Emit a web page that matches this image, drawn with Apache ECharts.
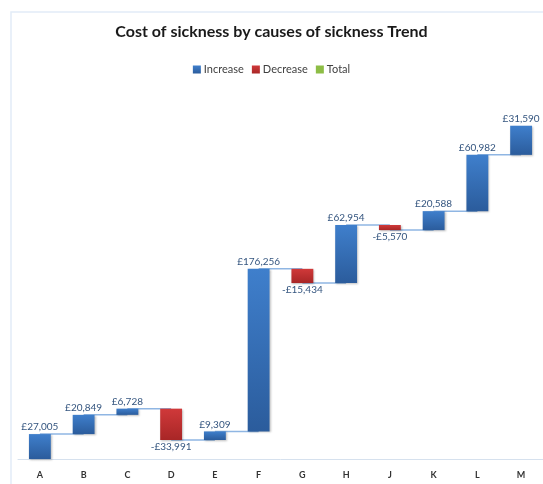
<!DOCTYPE html>
<html>
<head>
<meta charset="utf-8">
<script src="https://cdn.jsdelivr.net/npm/echarts@6/dist/echarts.min.js"></script>
<style>
  html, body { margin: 0; padding: 0; background: #ffffff; }
  #chart { width: 543px; height: 484px; }
</style>
</head>
<body>
<div id="chart"></div>
<script>
// Causes of sickness (category letters) and the change each one adds to the running cost
const categories = ['A', 'B', 'C', 'D', 'E', 'F', 'G', 'H', 'J', 'K', 'L', 'M'];
const changes = [27005, 20849, 6728, -33991, 9309, 176256, -15434, 62954, -5570, 20588, 60982, 31590];

// Running totals, invisible stacking base, and the visible rise / fall for each step
const running = [];
const baseValues = [];
const increaseValues = [];
const decreaseValues = [];
let total = 0;
changes.forEach(function (v) {
  const before = total;
  total += v;
  running.push(total);
  if (v >= 0) {
    baseValues.push(before);
    increaseValues.push(v);
    decreaseValues.push('-');
  } else {
    baseValues.push(total);
    increaseValues.push('-');
    decreaseValues.push(-v);
  }
});

function money(n) {
  return '£' + Math.round(n).toLocaleString('en-GB');
}

const chart = echarts.init(document.getElementById('chart'));

const blueFill = new echarts.graphic.LinearGradient(0, 0, 0, 1, [
  { offset: 0, color: '#3f7fcc' },
  { offset: 1, color: '#2b5c9c' }
]);
const redFill = new echarts.graphic.LinearGradient(0, 0, 0, 1, [
  { offset: 0, color: '#d0393a' },
  { offset: 1, color: '#a82626' }
]);

chart.setOption({
  animation: false,
  backgroundColor: '#ffffff',
  title: {
    text: 'Cost of sickness by causes of sickness Trend',
    left: 'center',
    top: 19,
    textStyle: {
      fontFamily: 'Lato',
      fontSize: 16,
      fontWeight: 'bold',
      color: '#1a1a1a'
    }
  },
  legend: {
    top: 59,
    left: 'center',
    itemWidth: 8,
    itemHeight: 8,
    itemGap: 8,
    icon: 'rect',
    textStyle: { fontFamily: 'Lato', fontSize: 11, color: '#404040', padding: [0, 0, 0, -2] },
    data: ['Increase', 'Decrease', 'Total']
  },
  graphic: [
    {
      type: 'polyline',
      silent: true,
      shape: { points: [[11, 484], [11, 12], [543, 12]] },
      style: { stroke: '#e2ecf7', lineWidth: 1.5, fill: null }
    }
  ],
  grid: { left: 18, right: -3, top: 90, bottom: 25 },
  xAxis: {
    type: 'category',
    data: categories,
    axisLine: { lineStyle: { color: '#d6e1ee', width: 1 } },
    axisTick: { show: false },
    axisLabel: {
      fontFamily: 'Lato',
      fontSize: 9,
      fontWeight: 'bold',
      color: '#333333',
      margin: 12
    }
  },
  yAxis: {
    type: 'value',
    min: 0,
    max: 400000,
    show: false,
    splitLine: { show: false }
  },
  series: [
    {
      // connectors between neighbouring bars at each running total
      name: 'connector',
      type: 'custom',
      silent: true,
      z: 1,
      data: running.slice(0, -1).map(function (v, i) { return [i, v]; }),
      renderItem: function (params, api) {
        const i = api.value(0);
        const y = api.value(1);
        const p1 = api.coord([i, y]);
        const p2 = api.coord([i + 1, y]);
        return {
          type: 'line',
          shape: { x1: p1[0], y1: p1[1], x2: p2[0], y2: p2[1] },
          style: { stroke: '#8fb6e3', lineWidth: 1.5 }
        };
      }
    },
    {
      name: 'base',
      type: 'bar',
      stack: 'wf',
      barWidth: '50%',
      silent: true,
      z: 2,
      itemStyle: { color: 'rgba(0,0,0,0)' },
      data: baseValues
    },
    {
      name: 'Increase',
      type: 'bar',
      stack: 'wf',
      z: 3,
      itemStyle: {
        color: blueFill,
        shadowColor: 'rgba(0,0,0,0.25)',
        shadowBlur: 2,
        shadowOffsetX: 1,
        shadowOffsetY: 1
      },
      label: {
        show: true,
        position: 'top',
        distance: 2,
        fontFamily: 'Lato',
        fontSize: 10,
        color: '#34557f',
        formatter: function (p) { return money(p.value); }
      },
      data: increaseValues
    },
    {
      name: 'Decrease',
      type: 'bar',
      stack: 'wf',
      z: 3,
      itemStyle: {
        color: redFill,
        shadowColor: 'rgba(0,0,0,0.25)',
        shadowBlur: 2,
        shadowOffsetX: 1,
        shadowOffsetY: 1
      },
      label: {
        show: true,
        position: 'bottom',
        distance: 2,
        fontFamily: 'Lato',
        fontSize: 10,
        color: '#34557f',
        formatter: function (p) { return '-' + money(p.value); }
      },
      data: decreaseValues
    },
    {
      name: 'Total',
      type: 'bar',
      stack: 'wf',
      itemStyle: { color: '#8dbd45' },
      data: []
    }
  ]
});
</script>
</body>
</html>
